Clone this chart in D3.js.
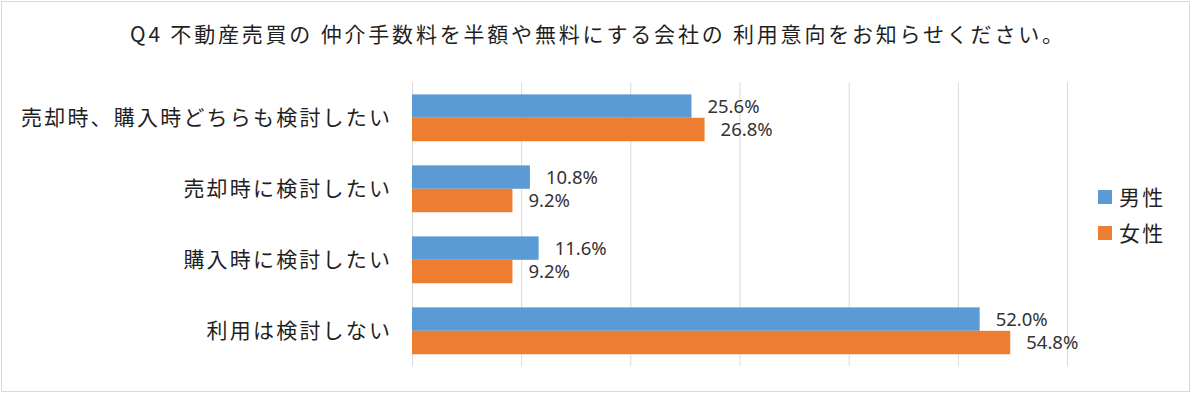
<!DOCTYPE html>
<html>
<head>
<meta charset="utf-8">
<script src="https://cdn.jsdelivr.net/npm/d3@7"></script>
<style>
  body { margin: 0; background: #fff; }
  svg { display: block; }
  .cat, .legend text { font-family: "Noto Sans CJK JP", sans-serif; font-size: 21px; fill: #1f1f1f; letter-spacing: 2.2px; }
  .title { font-family: "Noto Sans CJK JP", sans-serif; font-size: 21px; fill: #1f1f1f; }
  .label { font-family: "Noto Sans", sans-serif; font-size: 18.5px; fill: #333; }
  .grid line { stroke: #d9d9d9; }
  .grid path { display: none; }
</style>
</head>
<body>
<svg width="1200" height="397"></svg>
<script>
const title = "Q4 不動産売買の 仲介手数料を半額や無料にする会社の 利用意向をお知らせください。";
const categories = ["売却時、購入時どちらも検討したい", "売却時に検討したい", "購入時に検討したい", "利用は検討しない"];
const seriesNames = ["男性", "女性"];
const male = [25.6, 10.8, 11.6, 52.0];
const female = [26.8, 9.2, 9.2, 54.8];
const gridTicks = [0, 10, 20, 30, 40, 50, 60];
const colors = ["#5b9bd5", "#ed7d31"];

const rows = categories.map((c, i) => ({ cat: c, values: [male[i], female[i]] }));

const svg = d3.select("svg");

// chart frame
svg.append("rect")
  .attr("x", 1.5).attr("y", 1.5)
  .attr("width", 1188).attr("height", 390)
  .attr("fill", "#fff")
  .attr("stroke", "#d9d9d9");

svg.append("text")
  .attr("class", "title")
  .attr("x", 130).attr("y", 42)
  .attr("textLength", 933)
  .attr("lengthAdjust", "spacing")
  .text(title);

const x = d3.scaleLinear().domain([0, 60]).range([412, 1067]);
const y = d3.scaleBand().domain(categories).range([82.3, 366.3]).paddingInner(0.34).paddingOuter(0.17);
const ySub = d3.scaleBand().domain([0, 1]).range([0, y.bandwidth()]);

svg.append("g")
  .attr("class", "grid")
  .attr("transform", "translate(0,366.3)")
  .call(d3.axisBottom(x).tickValues(gridTicks).tickSize(-284).tickFormat(""));

const groups = svg.selectAll(".cat-g")
  .data(rows)
  .enter()
  .append("g")
  .attr("class", "cat-g")
  .attr("transform", d => "translate(0," + y(d.cat) + ")");

groups.selectAll("rect")
  .data(d => d.values)
  .enter()
  .append("rect")
  .attr("x", x(0))
  .attr("y", (d, i) => ySub(i))
  .attr("width", d => x(d) - x(0))
  .attr("height", ySub.bandwidth())
  .attr("fill", (d, i) => colors[i]);

groups.selectAll(".label")
  .data(d => d.values)
  .enter()
  .append("text")
  .attr("class", "label")
  .attr("x", d => x(d) + 16)
  .attr("y", (d, i) => ySub(i) + ySub.bandwidth() / 2)
  .attr("dy", "0.35em")
  .text(d => d.toFixed(1) + "%");

svg.selectAll(".cat")
  .data(categories)
  .enter()
  .append("text")
  .attr("class", "cat")
  .attr("x", 392.2)
  .attr("y", d => y(d) + y.bandwidth() / 2)
  .attr("dy", "0.36em")
  .attr("text-anchor", "end")
  .text(d => d);

const legend = svg.append("g").attr("class", "legend");
const items = legend.selectAll("g")
  .data(seriesNames)
  .enter()
  .append("g")
  .attr("transform", (d, i) => "translate(1098," + (197 + i * 36) + ")");

items.append("rect")
  .attr("x", 0).attr("y", -7)
  .attr("width", 14).attr("height", 14)
  .attr("fill", (d, i) => colors[i]);

items.append("text")
  .attr("x", 21)
  .attr("dy", "0.36em")
  .text(d => d);
</script>
</body>
</html>
